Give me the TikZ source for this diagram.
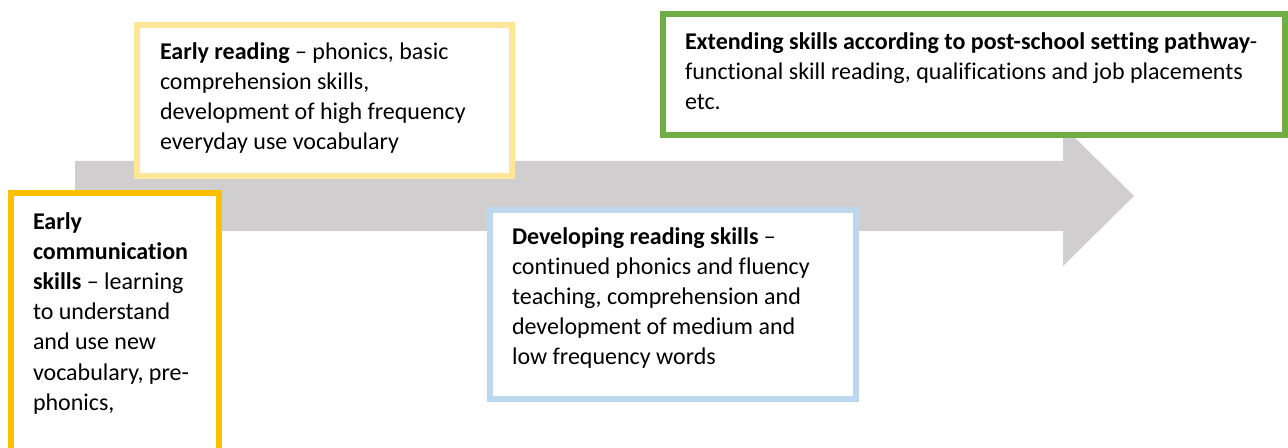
\documentclass[tikz,border=0pt]{standalone}
\usepackage{fontspec}
\setmainfont{Carlito}[Ligatures=NoCommon]
\definecolor{arrowgray}{HTML}{D0CECE}
\definecolor{orangeb}{HTML}{FFC000}
\definecolor{yellowb}{HTML}{FFE699}
\definecolor{blueb}{HTML}{BDD7EE}
\definecolor{greenb}{HTML}{70AD47}
\tikzset{
  framebox/.style={draw=#1, line width=3pt, fill=white},
  txt/.style={inner sep=0pt, outer sep=0pt, anchor=base west,
    font=\fontsize{12pt}{15pt}\selectfont}
}
\begin{document}
\begin{tikzpicture}[x=0.5pt,y=-0.5pt]
\useasboundingbox (0,0) rectangle (1288,448);
\clip (0,0) rectangle (1288,448);
% background arrow
\fill[arrowgray] (75,161) -- (1063,161) -- (1063,126) -- (1134,196)
  -- (1063,266) -- (1063,231) -- (75,231) -- cycle;
% boxes
\path[framebox=yellowb] (137,25) rectangle (512,176);
\path[framebox=orangeb] (10.5,193) rectangle (218.5,470);
\path[framebox=blueb] (489.5,210) rectangle (856,398.5);
\path[framebox=greenb] (662.5,14) rectangle (1284.5,135.5);
% texts
\node[txt] (reading) at (160,60) {\parbox[t]{220pt}{\raggedright
  \textbf{Early reading} – phonics, basic\\
  comprehension skills,\\
  development of high frequency\\
  everyday use vocabulary}};
\node[txt] (communication) at (33,230) {\parbox[t]{110pt}{\raggedright
  \textbf{Early}\\
  \textbf{communication}\\
  \textbf{skills} – learning\\
  to understand\\
  and use new\\
  vocabulary, pre-\\
  phonics,}};
\node[txt] (developing) at (512,245) {\parbox[t]{220pt}{\raggedright
  \textbf{Developing reading skills} –\\
  continued phonics and fluency\\
  teaching, comprehension and\\
  development of medium and\\
  low frequency words}};
\node[txt] (extending) at (685,50) {\parbox[t]{320pt}{\raggedright
  \textbf{Extending skills according to post-school setting pathway}-\\
  functional skill reading, qualifications and job placements\\
  etc.}};
\end{tikzpicture}
\end{document}
